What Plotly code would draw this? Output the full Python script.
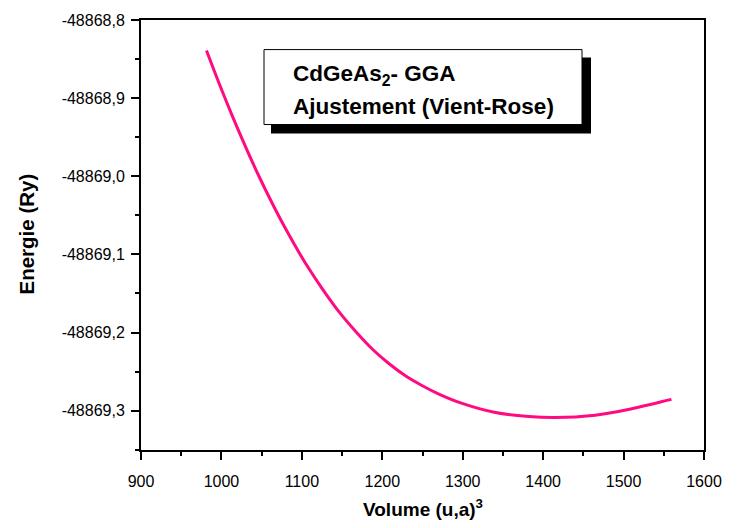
import plotly.graph_objects as go

# Data
volume = [981.4, 997.9, 1014.4, 1031.0, 1047.4, 1063.9, 1080.5, 1097.0,
          1105.3, 1125.9, 1146.5, 1167.2, 1187.8, 1208.5, 1229.2, 1249.8,
          1270.4, 1299.3, 1340.7, 1382.0, 1415.0, 1464.6, 1505.8, 1555.4,
          1559.5]
energy = [-48868.8391, -48868.8832, -48868.9249, -48868.9645, -48869.0016,
          -48869.0361, -48869.0686, -48869.0985, -48869.1126, -48869.1448,
          -48869.1740, -48869.1990, -48869.2214, -48869.2400, -48869.2557,
          -48869.2681, -48869.2788, -48869.2908, -48869.3025, -48869.3076,
          -48869.3089, -48869.3058, -48869.2986, -48869.2866, -48869.2856]

x_ticks = [900, 1000, 1100, 1200, 1300, 1400, 1500, 1600]
y_tickvals = [-48868.8, -48868.9, -48869.0, -48869.1, -48869.2, -48869.3]
y_ticktext = ["-48868,8", "-48868,9", "-48869,0", "-48869,1", "-48869,2", "-48869,3"]

W, H = 739, 528
L, R, T, B = 141, 35, 14, 78
pw, ph = W - L - R, H - T - B


def px(x):
    return (x - L) / pw


def py(y):
    return (H - B - y) / ph


FONT = "Liberation Sans, Arial, sans-serif"

fig = go.Figure()
fig.add_trace(go.Scatter(
    x=volume, y=energy, mode="lines",
    line=dict(color="#FF0A80", width=3, shape="spline", smoothing=1.0),
    showlegend=False, hoverinfo="skip"))

axis_common = dict(
    showgrid=False, zeroline=False, showline=True, linecolor="black",
    linewidth=2, mirror=True, ticks="outside", ticklen=8, tickwidth=1.5,
    tickcolor="black", tickfont=dict(family=FONT, size=16, color="black"),
)

fig.update_xaxes(range=[900, 1600], tickvals=x_ticks, ticklabelstandoff=8,
                 minor=dict(ticks="outside", ticklen=4, tickwidth=1.5,
                            tickcolor="black", dtick=50, tick0=900),
                 **axis_common)
fig.update_yaxes(range=[-48869.3504, -48868.8], tickvals=y_tickvals,
                 ticktext=y_ticktext, ticklabelstandoff=3,
                 minor=dict(ticks="outside", ticklen=4, tickwidth=1.5,
                            tickcolor="black", dtick=0.05, tick0=-48868.8),
                 **axis_common)

# Legend-like text box with drop shadow
fig.add_shape(type="rect", xref="paper", yref="paper",
              x0=px(271), x1=px(591), y0=py(129), y1=py(52),
              fillcolor="black", line=dict(width=0), layer="above")
fig.add_shape(type="rect", xref="paper", yref="paper",
              x0=px(264), x1=px(582), y0=py(120), y1=py(44),
              fillcolor="white", line=dict(color="black", width=1), layer="above")

fig.add_annotation(xref="paper", yref="paper", x=px(291), y=py(70),
                   xanchor="left", yanchor="middle", showarrow=False,
                   text="<b>CdGeAs<sub>2</sub>- GGA</b>",
                   font=dict(family=FONT, size=22.5, color="black"))
fig.add_annotation(xref="paper", yref="paper", x=px(291), y=py(102),
                   xanchor="left", yanchor="middle", showarrow=False,
                   text="<b>Ajustement (Vient-Rose)</b>",
                   font=dict(family=FONT, size=22.5, color="black"))

# Axis titles
fig.add_annotation(xref="paper", yref="paper", x=px(423), y=py(509),
                   xanchor="center", yanchor="middle", showarrow=False,
                   text="<b>Volume (u,a)<sup>3</sup></b>",
                   font=dict(family=FONT, size=19, color="black"))
fig.add_annotation(xref="paper", yref="paper", x=px(27), y=py(231.5),
                   xanchor="center", yanchor="middle", showarrow=False,
                   textangle=-90, text="<b>Energie (Ry)</b>",
                   font=dict(family=FONT, size=20.5, color="black"))

fig.update_layout(width=W, height=H, margin=dict(l=L, r=R, t=T, b=B),
                  paper_bgcolor="white", plot_bgcolor="white")

fig.write_html("out.html")
